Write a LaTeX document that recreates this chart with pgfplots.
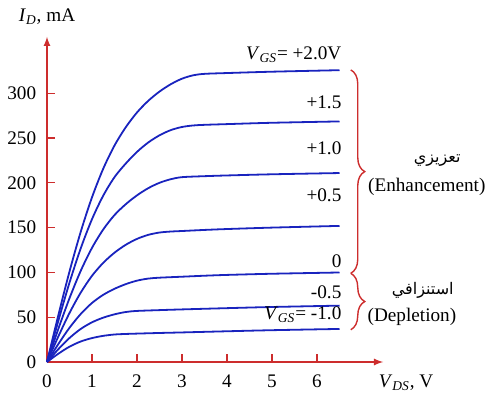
\documentclass[border=0pt]{standalone}
\usepackage{fontspec}
\setmainfont{Liberation Serif}
\newfontfamily\arabicfont[Script=Arabic]{DejaVu Sans}
\TeXXeTstate=1
\usepackage{pgfplots}
\pgfplotsset{compat=1.18}
\usetikzlibrary{decorations.pathreplacing}
\definecolor{curveblue}{RGB}{25,35,190}
\definecolor{axred}{RGB}{205,45,45}
\tikzset{cv/.style={curveblue, line width=0.9pt, smooth, no markers}}
\begin{document}
\fontsize{9.6}{11.5}\selectfont
\begin{tikzpicture}
\begin{axis}[
  at={(0,0)}, anchor=south west,
  x=22.5pt, y=0.448pt,
  xmin=0, xmax=7.47, ymin=0, ymax=363,
  axis lines=left,
  axis line style={axred, line width=0.6pt, -latex},
  xtick={0,1,2,3,4,5,6},
  ytick={0,50,100,150,200,250,300},
  tick style={axred, line width=0.6pt},
  major tick length=4pt,
  tick align=inside,
  /pgf/number format/assume math mode=true,
  xticklabel style={yshift=-3pt},
  yticklabel style={xshift=-2pt},
  tick label style={font=\fontsize{9.6}{11.5}\selectfont},
  clip=false,
]
\addplot[cv] coordinates {
(0,0) (0.25,51.8) (0.5,101.0) (0.75,145.4) (1.0,183.8) (1.25,215.8) (1.5,241.6) (1.75,262.0) (2.0,278.5) (2.25,291.5) (2.5,301.8) (2.75,310.0) (3.0,316.2) (3.25,320.0) (3.5,321.6) (4.0,322.5) (5.0,324.0) (6.5,325.7)};
\addplot[cv] coordinates {
(0,0) (0.25,45.6) (0.5,88.6) (0.75,126.9) (1.0,159.4) (1.25,185.7) (1.5,206.3) (1.75,221.5) (2.0,234.5) (2.25,245.0) (2.5,253.0) (2.75,258.8) (3.0,262.3) (3.25,264.0) (3.5,264.7) (4.0,265.5) (5.0,267.0) (6.5,268.5)};
\addplot[cv] coordinates {
(0,0) (0.25,36.7) (0.5,71.2) (0.75,101.8) (1.0,127.4) (1.25,147.9) (1.5,164.0) (1.75,176.1) (2.0,186.0) (2.25,194.0) (2.5,200.0) (2.75,204.0) (3.0,206.3) (3.5,207.4) (4.0,208.2) (5.0,209.5) (6.5,210.9)};
\addplot[cv] coordinates {
(0,0) (0.25,28.3) (0.5,54.7) (0.75,77.5) (1.0,96.2) (1.25,110.7) (1.5,122.0) (1.75,130.8) (2.0,137.4) (2.25,141.9) (2.5,144.5) (2.75,145.6) (3.0,146.2) (3.5,147.4) (4.0,148.4) (5.0,150.0) (6.5,151.9)};
\addplot[cv] coordinates {
(0,0) (0.25,19.9) (0.5,38.2) (0.75,53.6) (1.0,65.9) (1.25,75.0) (1.5,81.7) (1.75,86.9) (2.0,90.8) (2.25,93.1) (2.5,94.1) (3.0,95.2) (3.5,96.3) (4.0,97.2) (5.0,98.5) (6.5,99.9)};
\addplot[cv] coordinates {
(0,0) (0.25,14.2) (0.5,26.8) (0.75,36.9) (1.0,44.3) (1.25,49.5) (1.5,53.2) (1.75,55.8) (2.0,57.0) (2.5,57.9) (3.0,58.7) (4.0,60.1) (5.0,61.4) (6.5,62.9)};
\addplot[cv] coordinates {
(0,0) (0.25,9.2) (0.5,17.1) (0.75,22.9) (1.0,26.7) (1.25,29.2) (1.5,30.7) (1.75,31.3) (2.0,31.7) (2.5,32.4) (3.0,33.0) (4.0,34.3) (5.0,35.5) (6.5,36.9)};
% labels
\node[anchor=east, inner sep=0pt] at (axis cs:6.55,342.6) {\textit{V}\textsubscript{\textit{GS}}= +2.0V};
\node[anchor=east, inner sep=0pt] at (axis cs:6.55,290) {+1.5};
\node[anchor=east, inner sep=0pt] at (axis cs:6.55,239) {+1.0};
\node[anchor=east, inner sep=0pt] at (axis cs:6.55,186) {+0.5};
\node[anchor=east, inner sep=0pt] at (axis cs:6.55,112) {0};
\node[anchor=east, inner sep=0pt] at (axis cs:6.55,78) {-0.5};
\node[anchor=east, inner sep=0pt] at (axis cs:6.55,52.5) {\textit{V}\textsubscript{\textit{GS}}= -1.0};
\node at (axis cs:0,385) {\textit{I}\textsubscript{\textit{D}}, mA};
\node at (axis cs:7.98,-23.4) {\textit{V}\textsubscript{\textit{DS}}, V};
% braces
\draw[axred, line width=0.7pt, decorate, decoration={brace, amplitude=7pt}] (axis cs:6.75,326) -- (axis cs:6.75,99);
\draw[axred, line width=0.7pt, decorate, decoration={brace, amplitude=7pt}] (axis cs:6.75,99) -- (axis cs:6.75,36);
\node at (axis cs:8.67,225) {\arabicfont\fontsize{8}{10}\selectfont\beginR تعزيزي\endR};
\node at (axis cs:8.44,195) {(Enhancement)};
\node at (axis cs:8.35,80) {\arabicfont\fontsize{8}{10}\selectfont\beginR استنزافي\endR};
\node at (axis cs:8.11,50) {(Depletion)};
\end{axis}
\useasboundingbox (-23.5pt,-16pt) rectangle (223.5pt,181pt);
\end{tikzpicture}
\end{document}
